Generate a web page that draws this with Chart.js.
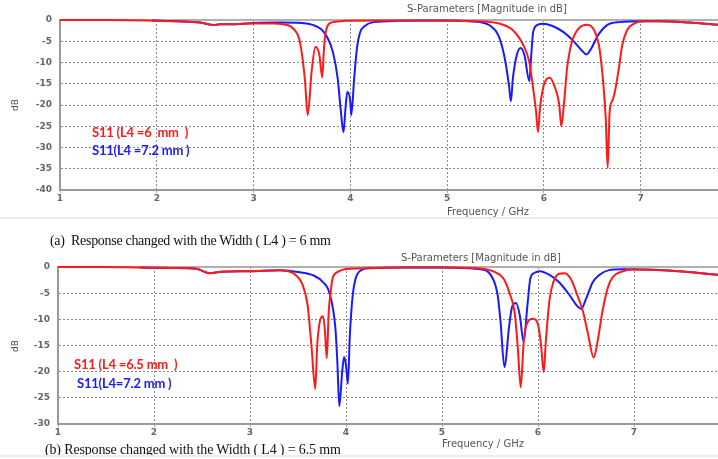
<!DOCTYPE html>
<html>
<head>
<meta charset="utf-8">
<script src="https://cdn.jsdelivr.net/npm/chart.js@4.4.0/dist/chart.umd.min.js"></script>
<style>
  body { margin: 0; width: 718px; height: 459px; background: #fff; position: relative; overflow: hidden; }
  .box { position: absolute; left: 0; width: 718px; }
  .txt { position: absolute; white-space: pre; line-height: 1; }
  .title { font: 10px "DejaVu Sans", sans-serif; color: #555; }
  .axis { font: 10px "DejaVu Sans", sans-serif; color: #555; }
  .ylab { font: 9px "DejaVu Sans", sans-serif; color: #555; transform: rotate(-90deg); }
  .leg { font: bold 13px Lato, sans-serif; letter-spacing: -0.2px; }
  .cap { font: 14px "Liberation Serif", serif; color: #111; letter-spacing: -0.3px; }
  .sep { position: absolute; left: 0; width: 718px; height: 2px; background: #ececec; }
</style>
</head>
<body>
<div class="box" style="top:0;height:218px"><canvas id="chartA"></canvas></div>
<div class="box" style="top:247px;height:200px"><canvas id="chartB"></canvas></div>

<div class="txt title" style="left:407px;top:3px">S-Parameters [Magnitude in dB]</div>
<div class="txt axis" style="left:447px;top:206px">Frequency / GHz</div>
<div class="txt ylab" style="left:9px;top:100px">dB</div>
<div class="txt leg" style="left:92px;top:124px;color:#ff1a1a">S11 (L4 =6  mm  )</div>
<div class="txt leg" style="left:92px;top:142px;color:#1a1aff">S11(L4 =7.2 mm )</div>
<div class="sep" style="top:217px"></div>
<div class="txt cap" style="left:50px;top:233px">(a)  Response changed with the Width ( L4 ) = 6 mm</div>

<div class="txt title" style="left:401px;top:252px">S-Parameters [Magnitude in dB]</div>
<div class="txt axis" style="left:442px;top:438px">Frequency / GHz</div>
<div class="txt ylab" style="left:9px;top:341px">dB</div>
<div class="txt leg" style="left:74px;top:356px;color:#ff1a1a">S11 (L4 =6.5 mm  )</div>
<div class="txt leg" style="left:77px;top:375px;color:#1a1aff">S11(L4=7.2 mm )</div>
<div class="txt cap" style="left:45px;top:442px;letter-spacing:-0.15px">(b) Response changed with the Width ( L4 ) = 6.5 mm</div>
<div class="sep" style="top:455px"></div>

<script>
// frequency ticks (GHz) and dB ticks
const freqTicks = [1, 2, 3, 4, 5, 6, 7];
const dbTicksA = [0, -5, -10, -15, -20, -25, -30, -35, -40];
const dbTicksB = [0, -5, -10, -15, -20, -25, -30];

// (a) L4 = 6 mm vs 7.2 mm
const freqRedA = [1.0, 1.5, 1.9, 2.2, 2.45, 2.59, 2.65, 2.8, 3.0, 3.2, 3.31, 3.41, 3.48, 3.53, 3.56, 3.60, 3.64, 3.68, 3.71, 3.73, 3.76, 3.82, 3.95, 4.3, 4.8, 5.1, 5.34, 5.55, 5.68, 5.79, 5.85, 5.89, 5.92, 5.94, 5.96, 5.99, 6.02, 6.06, 6.10, 6.16, 6.18, 6.21, 6.24, 6.29, 6.36, 6.45, 6.52, 6.57, 6.61, 6.64, 6.66, 6.68, 6.71, 6.74, 6.78, 6.81, 6.86, 6.93, 7.05, 7.2, 7.5, 7.8];
const s11RedA = [0, 0, -0.1, -0.3, -0.6, -1.2, -1.0, -1.0, -0.8, -0.8, -1.0, -2.0, -5.2, -13.8, -22.4, -12.2, -6.3, -8.2, -13.5, -6.0, -1.6, -0.5, -0.2, -0.1, -0.1, -0.2, -0.3, -0.9, -2.4, -6.0, -9.9, -16.2, -21.6, -26.4, -20.8, -16.2, -14.2, -13.6, -15.0, -20.1, -25.0, -19.3, -11.4, -5.2, -2.0, -1.1, -2.4, -6.0, -13.8, -23.2, -34.8, -21.6, -18.9, -16.2, -10.7, -6.0, -2.4, -0.9, -0.3, -0.3, -0.6, -1.1];

const freqBlueA = [1.95, 2.2, 2.45, 2.59, 2.65, 2.8, 3.0, 3.27, 3.5, 3.62, 3.7, 3.76, 3.82, 3.87, 3.90, 3.93, 3.95, 3.97, 4.0, 4.01, 4.04, 4.07, 4.10, 4.15, 4.24, 4.5, 5.0, 5.34, 5.44, 5.53, 5.59, 5.64, 5.66, 5.68, 5.72, 5.76, 5.80, 5.85, 5.87, 5.89, 5.94, 5.99, 6.09, 6.2, 6.3, 6.39, 6.44, 6.49, 6.56, 6.65, 6.78, 7.05, 7.2, 7.5, 7.8];
const s11BlueA = [-0.1, -0.3, -0.6, -1.2, -1.0, -1.0, -0.7, -0.6, -0.7, -1.2, -2.2, -4.0, -7.5, -13.8, -20.9, -26.4, -20.9, -16.9, -19.2, -22.4, -13.8, -6.4, -3.0, -1.4, -0.5, -0.2, -0.1, -0.5, -1.25, -3.6, -8.3, -15.4, -19.1, -13.8, -8.3, -6.6, -8.3, -14.4, -8.3, -2.8, -1.1, -0.86, -1.4, -2.8, -4.8, -7.1, -8.1, -6.7, -3.6, -1.25, -0.5, -0.3, -0.3, -0.6, -1.1];

// (b) L4 = 6.5 mm vs 7.2 mm
const freqRedB = [1.0, 1.5, 1.85, 2.2, 2.45, 2.58, 2.7, 3.0, 3.31, 3.45, 3.55, 3.60, 3.64, 3.68, 3.70, 3.73, 3.76, 3.78, 3.80, 3.82, 3.84, 3.86, 3.92, 4.0, 4.14, 4.6, 5.0, 5.4, 5.54, 5.64, 5.70, 5.76, 5.79, 5.82, 5.85, 5.88, 5.95, 6.0, 6.03, 6.06, 6.08, 6.12, 6.16, 6.22, 6.27, 6.34, 6.41, 6.47, 6.52, 6.58, 6.62, 6.67, 6.73, 6.78, 6.87, 6.99, 7.3, 7.6, 7.875];
const s11RedB = [0, 0, -0.1, -0.2, -0.4, -1.2, -0.9, -0.8, -0.6, -1.2, -3.5, -7.3, -15.0, -23.3, -15.0, -10.2, -9.4, -12.0, -17.4, -8.6, -4.8, -2.2, -0.9, -0.4, -0.3, -0.1, -0.1, -0.3, -0.9, -2.2, -4.8, -9.2, -15.6, -23.0, -14.6, -11.0, -9.9, -11.0, -14.6, -20.1, -14.6, -6.3, -2.9, -1.3, -1.2, -2.2, -5.4, -8.6, -12.7, -17.3, -14.3, -8.6, -3.8, -1.9, -0.9, -0.5, -0.6, -1.0, -1.5];

const freqBlueB = [1.85, 2.2, 2.45, 2.58, 2.7, 3.0, 3.31, 3.52, 3.66, 3.76, 3.83, 3.89, 3.91, 3.93, 3.96, 3.98, 4.0, 4.02, 4.04, 4.07, 4.10, 4.16, 4.25, 4.6, 5.0, 5.40, 5.51, 5.58, 5.61, 5.65, 5.70, 5.73, 5.77, 5.81, 5.85, 5.89, 5.92, 5.96, 6.02, 6.12, 6.22, 6.33, 6.40, 6.45, 6.50, 6.57, 6.64, 6.74, 6.88, 7.3, 7.6, 7.875];
const s11BlueB = [-0.1, -0.2, -0.4, -1.2, -0.9, -0.8, -0.6, -1.0, -1.6, -2.9, -5.1, -11.8, -18.2, -26.6, -20.1, -17.2, -18.8, -22.3, -13.1, -5.4, -2.2, -0.6, -0.2, -0.1, -0.1, -0.45, -1.6, -5.4, -10.5, -19.1, -11.2, -7.6, -6.9, -9.2, -14.3, -7.3, -2.2, -1.15, -0.8, -1.5, -2.9, -5.4, -7.3, -8.0, -6.1, -2.9, -1.5, -0.6, -0.45, -0.6, -1.0, -1.5];

const toPoints = (xs, ys) => xs.map((x, i) => ({ x: x, y: ys[i] }));

const line = (data, color) => ({
  data: data,
  borderColor: color,
  borderWidth: 2,
  pointRadius: 0,
  cubicInterpolationMode: 'monotone',
  clip: false,
});

const tickFont = { family: 'DejaVu Sans', size: 9, weight: 'bold' };

const makeChart = (canvas, opts) => {
  new Chart(canvas, {
    type: 'line',
    data: {
      datasets: [
        line(toPoints(opts.redX, opts.redY), '#ff1a1a'),
        line(toPoints(opts.blueX, opts.blueY), '#1a1aff'),
      ],
    },
    options: {
      responsive: true,
      maintainAspectRatio: false,
      animation: false,
      events: [],
      layout: { padding: { top: 20, right: 0, bottom: 0, left: 0 } },
      plugins: { legend: { display: false }, tooltip: { enabled: false } },
      scales: {
        x: {
          type: 'linear',
          min: 1,
          max: opts.xMax,
          afterBuildTicks: (s) => { s.ticks = freqTicks.map((v) => ({ value: v })); },
          afterFit: (s) => { s.height = opts.xHeight; },
          ticks: { color: '#666', font: tickFont, padding: 0, maxRotation: 0 },
          grid: { color: '#8a8a8a', lineWidth: 1, tickLength: 3, tickColor: '#aaa' },
          border: { color: '#9a9a9a', width: 2, dash: [2, 2] },
        },
        y: {
          min: opts.yMin,
          max: 0,
          afterBuildTicks: (s) => { s.ticks = opts.yTicks.map((v) => ({ value: v })); },
          afterFit: (s) => { s.width = opts.yWidth; },
          ticks: { color: '#666', font: tickFont, padding: 4 },
          grid: {
            color: (c) => (c.tick && c.tick.value === 0 ? '#b0b0b0' : '#8a8a8a'),
            lineWidth: (c) => (c.tick && c.tick.value === 0 ? 2 : 1),
            tickLength: 4,
            tickColor: '#fff',
          },
          border: {
            color: '#9a9a9a',
            width: 2,
            dash: (c) => (c.tick && c.tick.value === 0 ? [] : [2, 2]),
          },
        },
      },
    },
  });
};

makeChart(document.getElementById('chartA'), {
  redX: freqRedA, redY: s11RedA, blueX: freqBlueA, blueY: s11BlueA,
  xMax: 7.8, yMin: -40, yTicks: dbTicksA, xHeight: 28, yWidth: 60,
});

makeChart(document.getElementById('chartB'), {
  redX: freqRedB, redY: s11RedB, blueX: freqBlueB, blueY: s11BlueB,
  xMax: 7.875, yMin: -30, yTicks: dbTicksB, xHeight: 23, yWidth: 58,
});
</script>
</body>
</html>
